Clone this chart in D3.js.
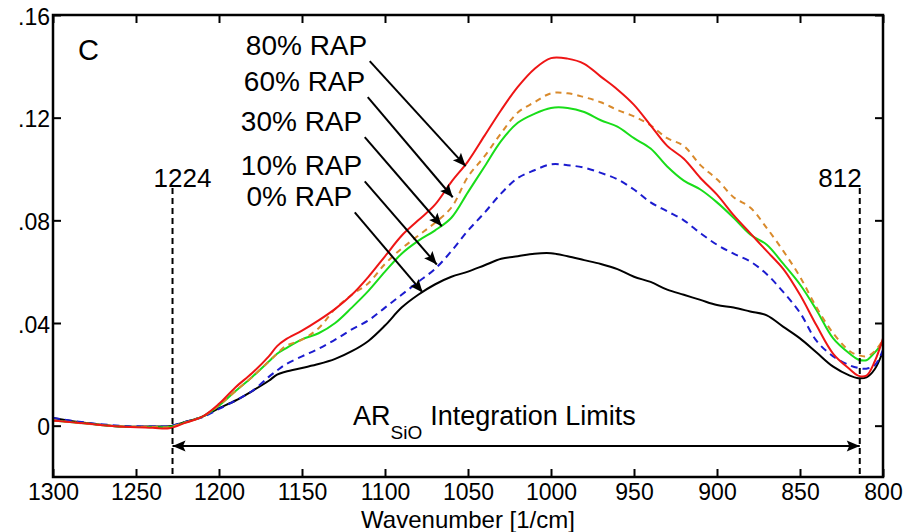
<!DOCTYPE html>
<html>
<head>
<meta charset="utf-8">
<script src="https://cdn.jsdelivr.net/npm/d3@7"></script>
<style>
  html, body { margin: 0; padding: 0; background: #fff; }
  svg { display: block; font-family: 'Liberation Sans', Arial, sans-serif; }
</style>
</head>
<body>
<div id="chart"></div>
<script>
// wavenumber grid [1/cm]
const wavenumbers = [1300, 1280, 1260, 1240, 1230, 1220, 1210, 1200, 1190, 1180, 1170, 1165, 1160, 1150, 1140, 1130, 1120, 1110, 1100, 1090, 1080, 1070, 1060, 1050, 1040, 1030, 1020, 1010, 1000, 990, 980, 970, 960, 950, 940, 930, 920, 910, 900, 890, 880, 870, 860, 850, 840, 830, 820, 815, 810, 805, 800]

const rap0 = [0.003, 0.001, -0.0003, -0.0003, -0.0002, 0.0015, 0.0035, 0.0068, 0.0098, 0.0135, 0.0175, 0.0199, 0.021, 0.0225, 0.024, 0.026, 0.029, 0.033, 0.039, 0.046, 0.051, 0.055, 0.058, 0.060, 0.0625, 0.065, 0.066, 0.067, 0.0672, 0.066, 0.0645, 0.063, 0.061, 0.058, 0.056, 0.053, 0.051, 0.049, 0.047, 0.046, 0.0445, 0.043, 0.0385, 0.034, 0.0285, 0.023, 0.0195, 0.0185, 0.0188, 0.022, 0.029]
const rap10 = [0.003, 0.0012, 0.0, -0.0003, -0.0002, 0.0015, 0.0033, 0.0065, 0.0098, 0.0135, 0.019, 0.0215, 0.0238, 0.027, 0.030, 0.0335, 0.0375, 0.041, 0.046, 0.051, 0.056, 0.061, 0.068, 0.076, 0.083, 0.0905, 0.0965, 0.0995, 0.1018, 0.1015, 0.1005, 0.0985, 0.096, 0.092, 0.087, 0.0835, 0.080, 0.075, 0.0705, 0.067, 0.064, 0.059, 0.052, 0.044, 0.033, 0.027, 0.0235, 0.0225, 0.0222, 0.0235, 0.0295]
const rap30 = [0.002, 0.0008, -0.0003, -0.0005, -0.0005, 0.0013, 0.0035, 0.0078, 0.0135, 0.019, 0.025, 0.028, 0.030, 0.0336, 0.036, 0.040, 0.046, 0.0525, 0.060, 0.067, 0.072, 0.076, 0.081, 0.091, 0.101, 0.111, 0.118, 0.1215, 0.1238, 0.1238, 0.1222, 0.119, 0.1165, 0.112, 0.108, 0.101, 0.0955, 0.092, 0.087, 0.081, 0.0745, 0.0705, 0.063, 0.055, 0.045, 0.034, 0.028, 0.0258, 0.0255, 0.0285, 0.0325]
const rap60 = [0.002, 0.0008, -0.0003, -0.0005, -0.0006, 0.0013, 0.0035, 0.008, 0.0135, 0.019, 0.025, 0.028, 0.031, 0.0335, 0.038, 0.0455, 0.051, 0.0555, 0.063, 0.069, 0.074, 0.079, 0.085, 0.097, 0.105, 0.114, 0.122, 0.126, 0.1295, 0.1295, 0.128, 0.126, 0.123, 0.1205, 0.117, 0.112, 0.109, 0.1015, 0.096, 0.089, 0.085, 0.077, 0.068, 0.058, 0.046, 0.036, 0.029, 0.0275, 0.027, 0.029, 0.0335]
const rap80 = [0.002, 0.0008, -0.0003, -0.0008, -0.001, 0.0012, 0.0035, 0.0085, 0.015, 0.0205, 0.027, 0.031, 0.0335, 0.037, 0.041, 0.0455, 0.051, 0.058, 0.066, 0.074, 0.080, 0.086, 0.095, 0.103, 0.113, 0.123, 0.132, 0.139, 0.1432, 0.143, 0.141, 0.136, 0.131, 0.125, 0.117, 0.109, 0.104, 0.0965, 0.090, 0.082, 0.075, 0.068, 0.061, 0.051, 0.039, 0.028, 0.022, 0.0195, 0.0195, 0.025, 0.034]

const seriesNames = ['0% RAP', '10% RAP', '30% RAP', '60% RAP', '80% RAP']
const seriesValues = [rap0, rap10, rap30, rap60, rap80]

const xTicks = [1300, 1250, 1200, 1150, 1100, 1050, 1000, 950, 900, 850, 800]
const yTicks = [0, 0.04, 0.08, 0.12, 0.16]

// label arrows: tail and tip in data units
const arrowLabels = ['80% RAP', '60% RAP', '30% RAP', '10% RAP', '0% RAP']
const arrowTails = [[1109.2, 0.142], [1110.4, 0.128], [1112.2, 0.1124], [1112.2, 0.0952], [1118.2, 0.0831]]
const arrowTips = [[1051.4, 0.1011], [1059.2, 0.089], [1065.8, 0.0777], [1068.8, 0.0628], [1077.3, 0.0519]]

// integration limits (line position, printed label)
const limitPositions = [1228, 814]
const limitLabels = ['1224', '812']

const width = 919
const height = 532
const margin = { top: 15, right: 36, bottom: 55, left: 53 }

const styles = {
  '0% RAP': { color: '#000000', dash: null },
  '10% RAP': { color: '#1c1ccf', dash: '7,5' },
  '30% RAP': { color: '#19dd19', dash: null },
  '60% RAP': { color: '#d98a2c', dash: '6,5' },
  '80% RAP': { color: '#ee1515', dash: null }
}

const svg = d3.select('#chart').append('svg')
  .attr('width', width)
  .attr('height', height)

const x = d3.scaleLinear([1300, 800], [margin.left, width - margin.right])
const y = d3.scaleLinear([-0.02, 0.16], [height - margin.bottom, margin.top])

const defs = svg.append('defs')
defs.append('marker')
  .attr('id', 'head')
  .attr('viewBox', '-1 -7 15 14')
  .attr('markerUnits', 'userSpaceOnUse')
  .attr('markerWidth', 15)
  .attr('markerHeight', 14)
  .attr('refX', 13)
  .attr('refY', 0)
  .attr('orient', 'auto-start-reverse')
  .append('path')
  .attr('d', 'M0,-5.5L13,0L0,5.5L2.5,0Z')
  .attr('fill', '#000')

defs.append('clipPath').attr('id', 'plot')
  .append('rect')
  .attr('x', margin.left).attr('y', margin.top)
  .attr('width', width - margin.right - margin.left)
  .attr('height', height - margin.bottom - margin.top)

// curves
const line = d3.line()
  .x(d => x(d[0]))
  .y(d => y(d[1]))
  .curve(d3.curveCatmullRom.alpha(0.5))

const curves = svg.append('g').attr('clip-path', 'url(#plot)')
seriesNames.forEach((name, i) => {
  const pts = wavenumbers.map((w, j) => [w, seriesValues[i][j]])
  curves.append('path')
    .attr('d', line(pts))
    .attr('fill', 'none')
    .attr('stroke', styles[name].color)
    .attr('stroke-width', 2)
    .attr('stroke-dasharray', styles[name].dash)
})

// integration limit lines
const limitTop = 188
limitPositions.forEach((w, i) => {
  svg.append('line')
    .attr('x1', x(w)).attr('x2', x(w))
    .attr('y1', limitTop).attr('y2', height - margin.bottom)
    .attr('stroke', '#000')
    .attr('stroke-width', 2)
    .attr('stroke-dasharray', '6,4')
  svg.append('text')
    .attr('x', i === 0 ? x(w) + 10 : x(w) + 2)
    .attr('y', limitTop - 1)
    .attr('text-anchor', i === 0 ? 'middle' : 'end')
    .attr('font-size', 26)
    .text(limitLabels[i])
})

// double arrow between limits
const arrowY = 446
svg.append('line')
  .attr('x1', x(limitPositions[0])).attr('x2', x(limitPositions[1]))
  .attr('y1', arrowY).attr('y2', arrowY)
  .attr('stroke', '#000')
  .attr('stroke-width', 2)
  .attr('marker-start', 'url(#head)')
  .attr('marker-end', 'url(#head)')

const limitText = svg.append('text')
  .attr('x', 353)
  .attr('y', 425)
  .attr('font-size', 27)
limitText.append('tspan').text('AR')
limitText.append('tspan').attr('font-size', 19).attr('dy', 14).text('SiO')
limitText.append('tspan').attr('dy', -14).attr('dx', 8).text('Integration Limits')

// label arrows
arrowLabels.forEach((label, i) => {
  const [tx, ty] = [x(arrowTails[i][0]), y(arrowTails[i][1])]
  svg.append('line')
    .attr('x1', tx).attr('y1', ty)
    .attr('x2', x(arrowTips[i][0])).attr('y2', y(arrowTips[i][1]))
    .attr('stroke', '#000')
    .attr('stroke-width', 2)
    .attr('marker-end', 'url(#head)')
  svg.append('text')
    .attr('x', tx - 2.5)
    .attr('y', ty - 6)
    .attr('text-anchor', 'end')
    .attr('font-size', 28)
    .text(label)
})

// axes
const yFormat = d => d === 0 ? '0' : d3.format('.2f')(d).replace(/^0/, '')
const tickLen = 8

const axisBottomG = svg.append('g')
  .attr('transform', `translate(0,${height - margin.bottom})`)
  .call(d3.axisBottom(x).tickValues(xTicks).tickSize(-tickLen).tickPadding(tickLen - 1).tickFormat(d3.format('d')).tickSizeOuter(0))
const axisTopG = svg.append('g')
  .attr('transform', `translate(0,${margin.top})`)
  .call(d3.axisTop(x).tickValues(xTicks).tickSize(-tickLen).tickFormat('').tickSizeOuter(0))
const axisLeftG = svg.append('g')
  .attr('transform', `translate(${margin.left},0)`)
  .call(d3.axisLeft(y).tickValues(yTicks).tickSize(-tickLen).tickPadding(3).tickFormat(yFormat).tickSizeOuter(0))
const axisRightG = svg.append('g')
  .attr('transform', `translate(${width - margin.right},0)`)
  .call(d3.axisRight(y).tickValues(yTicks).tickSize(-tickLen).tickFormat('').tickSizeOuter(0))

;[axisBottomG, axisTopG, axisLeftG, axisRightG].forEach(g => {
  g.select('.domain').remove()
  g.selectAll('.tick line').attr('stroke', '#000').attr('stroke-width', 2)
  g.selectAll('.tick text')
    .attr('fill', '#000')
    .attr('font-family', "'Liberation Sans', Arial, sans-serif")
    .attr('font-size', 23)
})
axisLeftG.selectAll('.tick text').attr('dy', '0.4em')

svg.append('rect')
  .attr('x', margin.left).attr('y', margin.top)
  .attr('width', width - margin.right - margin.left)
  .attr('height', height - margin.bottom - margin.top)
  .attr('fill', 'none')
  .attr('stroke', '#000')
  .attr('stroke-width', 2.5)

svg.append('text')
  .attr('x', 468)
  .attr('y', 528)
  .attr('text-anchor', 'middle')
  .attr('font-size', 24)
  .text('Wavenumber [1/cm]')

svg.append('text')
  .attr('x', 78)
  .attr('y', 60)
  .attr('font-size', 29)
  .text('C')
</script>
</body>
</html>
